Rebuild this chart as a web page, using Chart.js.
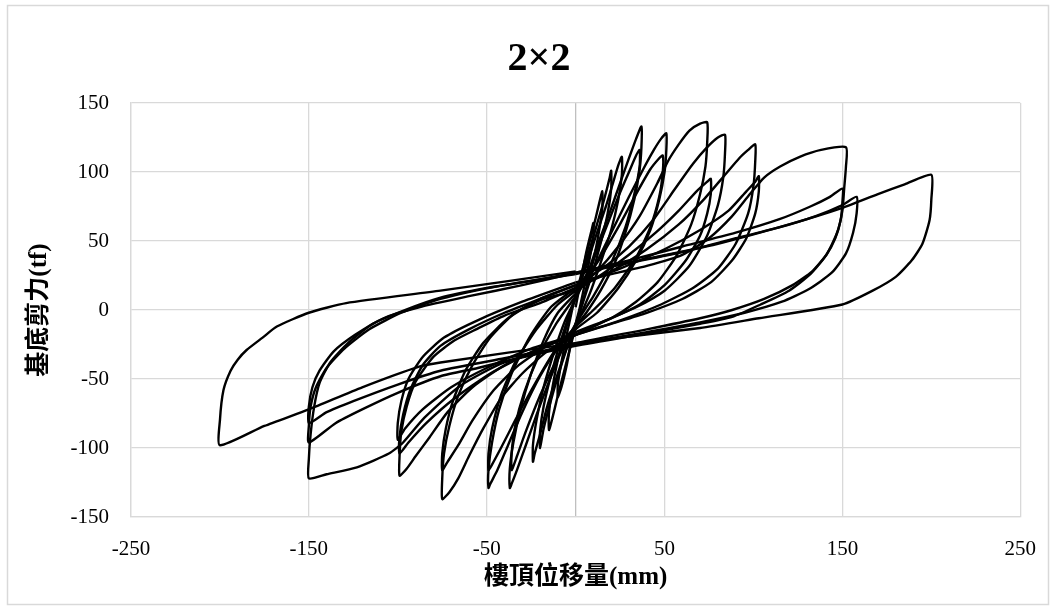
<!DOCTYPE html>
<html>
<head>
<meta charset="utf-8">
<title>2×2</title>
<script src="https://cdn.jsdelivr.net/npm/chart.js@4/dist/chart.umd.min.js"></script>
<style>
  body { margin: 0; background: #fff; }
  #wrap { width: 1056px; height: 610px; }
</style>
</head>
<body>
<div id="wrap"><canvas id="hysteresisChart" width="1056" height="610"></canvas></div>
<script>
// chart title and axis ticks
var chartTitle = "2×2";
var xTickValues = [-250, -150, -50, 50, 150, 250];
var yTickValues = [-150, -100, -50, 0, 50, 100, 150];

// displacement (mm), base shear (tf), one cycle per array
var cyc01 = [[0,2],[3,22],[6,42],[9,58],[10,63],[10,54],[8,38],[5,18],[2,0],[-2,-20],[-5,-40],[-8,-56],[-10,-63],[-10,-54],[-8,-38],[-5,-18],[-2,0]];
var cyc02 = [[-2,0],[2,20],[6,40],[10,60],[13,76],[15,86],[15,74],[13,56],[10,36],[6,16],[2,-4],[-2,-22],[-6,-42],[-10,-62],[-13,-78],[-15,-87],[-15,-75],[-13,-56],[-10,-36],[-6,-16],[-2,2]];
var cyc03 = [[-2,2],[2,18],[7,40],[12,62],[16,80],[19,95],[20,101],[20,88],[18,70],[14,48],[9,25],[4,5],[0,-10],[-4,-24],[-9,-44],[-14,-66],[-18,-86],[-20,-100],[-20,-88],[-18,-70],[-14,-48],[-9,-25],[-4,-5],[0,10]];
var cyc04 = [[0,10],[5,28],[11,52],[17,75],[21,92],[24,105],[26,111],[26,98],[24,80],[20,58],[14,34],[8,12],[2,-6],[-4,-24],[-10,-46],[-16,-70],[-20,-90],[-23,-104],[-24,-110],[-24,-98],[-22,-80],[-18,-56],[-12,-30],[-6,-8],[0,8]];
var cyc05 = [[0,8],[6,24],[12,46],[19,70],[25,92],[30,110],[34,124],[37,133],[37,118],[36,102],[33,80],[28,56],[22,34],[14,14],[6,-2],[0,-12],[-8,-30],[-15,-52],[-22,-76],[-28,-98],[-33,-116],[-36,-126],[-37,-129],[-37,-115],[-35,-96],[-31,-72],[-25,-46],[-18,-22],[-10,-2],[0,12]];
var cyc06 = [[0,12],[8,30],[16,56],[24,82],[30,100],[34,112],[36,116],[36,104],[33,84],[28,60],[20,34],[10,10],[0,-10],[-10,-34],[-20,-62],[-28,-88],[-33,-106],[-36,-116],[-36,-104],[-34,-84],[-29,-60],[-21,-34],[-11,-10],[0,10]];
var cyc07 = [[0,10],[10,30],[20,56],[30,82],[38,102],[44,116],[48,124],[51,128],[51,116],[50,100],[47,80],[42,58],[34,36],[24,16],[12,-2],[0,-14],[-10,-28],[-20,-48],[-30,-74],[-38,-98],[-44,-116],[-48,-126],[-49,-129],[-49,-116],[-47,-96],[-43,-72],[-36,-46],[-26,-20],[-14,2],[0,16]];
var cyc08 = [[0,16],[12,34],[24,60],[34,84],[42,102],[47,110],[49,112],[49,100],[47,82],[42,60],[34,38],[22,16],[10,0],[0,-12],[-12,-30],[-24,-56],[-34,-80],[-42,-100],[-47,-112],[-49,-116],[-49,-104],[-47,-86],[-42,-62],[-34,-38],[-22,-14],[-10,4],[0,14]];
var cyc09 = [[0,14],[12,28],[24,46],[36,68],[46,92],[52,108],[58,120],[64,130],[70,135],[74,136],[74,122],[73,104],[70,84],[65,62],[57,40],[46,20],[34,6],[20,-6],[0,-18],[-16,-30],[-30,-46],[-42,-64],[-52,-86],[-60,-106],[-66,-122],[-71,-132],[-75,-137],[-75,-122],[-74,-104],[-71,-84],[-66,-62],[-58,-40],[-48,-20],[-34,-2],[-18,8],[0,14]];
var cyc10 = [[0,14],[15,26],[30,40],[45,56],[58,72],[68,86],[74,93],[76,95],[76,84],[74,70],[70,54],[62,36],[50,18],[36,4],[20,-6],[0,-16],[-16,-26],[-32,-40],[-46,-58],[-58,-80],[-66,-98],[-72,-110],[-75,-116],[-75,-104],[-73,-86],[-69,-66],[-62,-44],[-52,-24],[-38,-6],[-20,8],[0,18]];
var cyc11 = [[0,18],[15,30],[30,46],[44,66],[56,88],[66,106],[74,118],[80,125],[84,127],[84,114],[83,96],[80,76],[74,54],[64,32],[50,14],[34,2],[16,-8],[0,-18],[-20,-28],[-40,-40],[-58,-56],[-72,-74],[-82,-92],[-90,-106],[-95,-115],[-99,-120],[-99,-106],[-98,-88],[-95,-70],[-90,-52],[-80,-34],[-68,-22],[-56,-14],[-40,-4],[-20,5],[0,16]];
var cyc12 = [[0,16],[20,28],[40,44],[58,62],[72,80],[84,98],[92,110],[97,116],[101,120],[101,108],[100,90],[97,70],[90,48],[80,30],[66,16],[48,4],[24,-8],[0,-18],[-24,-30],[-48,-46],[-68,-64],[-84,-82],[-94,-96],[-99,-104],[-99,-92],[-97,-76],[-93,-58],[-86,-40],[-76,-26],[-60,-14],[-40,-2],[-20,8],[0,18]];
var cyc13 = [[0,18],[25,30],[50,44],[70,58],[86,72],[96,86],[101,93],[103,97],[103,86],[101,70],[96,52],[88,36],[76,20],[60,8],[40,-2],[20,-10],[0,-18],[-25,-28],[-50,-42],[-70,-56],[-86,-72],[-96,-86],[-100,-94],[-100,-82],[-98,-66],[-94,-50],[-86,-34],[-74,-20],[-56,-8],[-30,6],[0,20]];
var cyc14 = [[0,20],[20,26],[40,32],[60,40],[75,52],[88,68],[98,84],[106,96],[115,104],[126,111],[138,116],[152,118],[152,104],[151,88],[150,72],[147,56],[141,40],[132,26],[120,14],[104,4],[88,-5],[70,-10],[40,-17],[0,-26],[-40,-38],[-65,-55],[-85,-78],[-97,-96],[-105,-104],[-123,-114],[-140,-119],[-150,-122],[-150,-108],[-149,-90],[-147,-70],[-144,-53],[-138,-38],[-128,-24],[-114,-10],[-96,0],[-76,9],[-50,16],[-30,20],[0,27]];
var cyc15 = [[0,27],[30,36],[60,46],[90,56],[115,66],[132,75],[143,82],[150,88],[150,78],[149,65],[146,52],[141,40],[133,28],[122,18],[106,8],[88,0],[70,-6],[40,-14],[0,-24],[-30,-34],[-55,-42],[-76,-48],[-100,-60],[-120,-72],[-135,-82],[-150,-96],[-150,-84],[-149,-70],[-146,-56],[-140,-42],[-130,-28],[-116,-14],[-98,-2],[-76,8],[-40,18],[0,26]];
var cyc16 = [[0,26],[30,34],[60,42],[90,52],[115,60],[135,68],[150,76],[158,82],[158,70],[156,56],[152,41],[144,27],[131,15],[116,6],[95,-2],[70,-9],[40,-16],[0,-25],[-40,-35],[-76,-44],[-100,-54],[-125,-66],[-140,-74],[-150,-82],[-150,-70],[-148,-56],[-144,-44],[-136,-30],[-124,-18],[-108,-6],[-88,2],[-60,10],[-30,18],[0,27]];
var cyc17 = [[0,27],[40,37],[80,48],[120,62],[150,74],[170,84],[185,91],[200,98],[200,80],[199,65],[195,48],[189,36],[180,24],[167,14],[150,4],[103,-6],[70,-13],[0,-24],[-76,-38],[-88,-41],[-120,-56],[-150,-72],[-175,-84],[-200,-98],[-200,-80],[-198,-58],[-194,-44],[-190,-36],[-185,-29],[-176,-20],[-168,-12],[-150,-2],[-129,5],[-76,14],[0,28]];

var cycles = [cyc01, cyc02, cyc03, cyc04, cyc05, cyc06, cyc07, cyc08, cyc09,
              cyc10, cyc11, cyc12, cyc13, cyc14, cyc15, cyc16, cyc17];

document.addEventListener("DOMContentLoaded", function() {
    var ctx = document.getElementById("hysteresisChart").getContext("2d");

    // one black line per cycle, they join end to end
    var datasets = cycles.map(function(c) {
        return {
            data: c.map(function(p) { return { x: p[0], y: p[1] }; }),
            showLine: true,
            borderColor: "#000",
            borderWidth: 2.4,
            pointRadius: 0,
            tension: 0.2,
            fill: false
        };
    });

    // white background, outer frame and the title (sits a bit right of centre)
    var framePlugin = {
        id: "frame",
        beforeDraw: function(chart) {
            var c = chart.ctx;
            c.save();
            c.fillStyle = "#fff";
            c.fillRect(0, 0, chart.width, chart.height);
            c.restore();
        },
        afterDraw: function(chart) {
            var c = chart.ctx;
            c.save();
            c.strokeStyle = "#d9d9d9";
            c.lineWidth = 1.5;
            c.strokeRect(7.5, 5.5, 1041, 599);
            c.fillStyle = "#000";
            c.font = "bold 40px 'Liberation Serif', serif";
            c.textAlign = "center";
            c.textBaseline = "middle";
            c.fillText(chartTitle, 539, 60);
            c.restore();
        }
    };

    var tickFont = { family: "'Liberation Serif', 'Times New Roman', serif", size: 21 };
    var titleFont = { family: "'Liberation Serif', 'Noto Sans CJK TC', serif", size: 25, weight: "bold" };

    new Chart(ctx, {
        type: "scatter",
        data: { datasets: datasets },
        plugins: [framePlugin],
        options: {
            responsive: false,
            animation: false,
            layout: { padding: { top: 103, left: 20, right: 35, bottom: 8 } },
            plugins: {
                legend: { display: false },
                tooltip: { enabled: false },
                title: { display: false }
            },
            scales: {
                x: {
                    type: "linear",
                    min: -250,
                    max: 250,
                    afterBuildTicks: function(s) {
                        // keep the zero line as a grid line with no label
                        s.ticks = xTickValues.concat([0]).sort(function(a, b) { return a - b; })
                            .map(function(v) { return { value: v }; });
                    },
                    afterFit: function(s) { s.height = 85; },
                    ticks: {
                        color: "#000",
                        font: tickFont,
                        padding: 20,
                        maxRotation: 0,
                        callback: function(v) { return v === 0 ? "" : v; }
                    },
                    grid: {
                        drawTicks: false,
                        color: function(c) { return c.tick && c.tick.value === 0 ? "#bfbfbf" : "#d9d9d9"; },
                        lineWidth: 1.3
                    },
                    border: { color: "#d9d9d9", width: 1.3 },
                    title: {
                        display: true,
                        text: "樓頂位移量(mm)",
                        color: "#000",
                        font: titleFont,
                        padding: { top: 0, bottom: 9 }
                    }
                },
                y: {
                    type: "linear",
                    min: -150,
                    max: 150,
                    afterBuildTicks: function(s) {
                        s.ticks = yTickValues.map(function(v) { return { value: v }; });
                    },
                    afterFit: function(s) { s.width = 111; },
                    ticks: {
                        color: "#000",
                        font: tickFont,
                        padding: 22
                    },
                    grid: { drawTicks: false, color: "#d9d9d9", lineWidth: 1.3 },
                    border: { color: "#d9d9d9", width: 1.3 },
                    title: {
                        display: true,
                        text: "基底剪力(tf)",
                        color: "#000",
                        font: titleFont,
                        padding: { top: 5, bottom: 0 }
                    }
                }
            }
        }
    });
});
</script>
</body>
</html>
